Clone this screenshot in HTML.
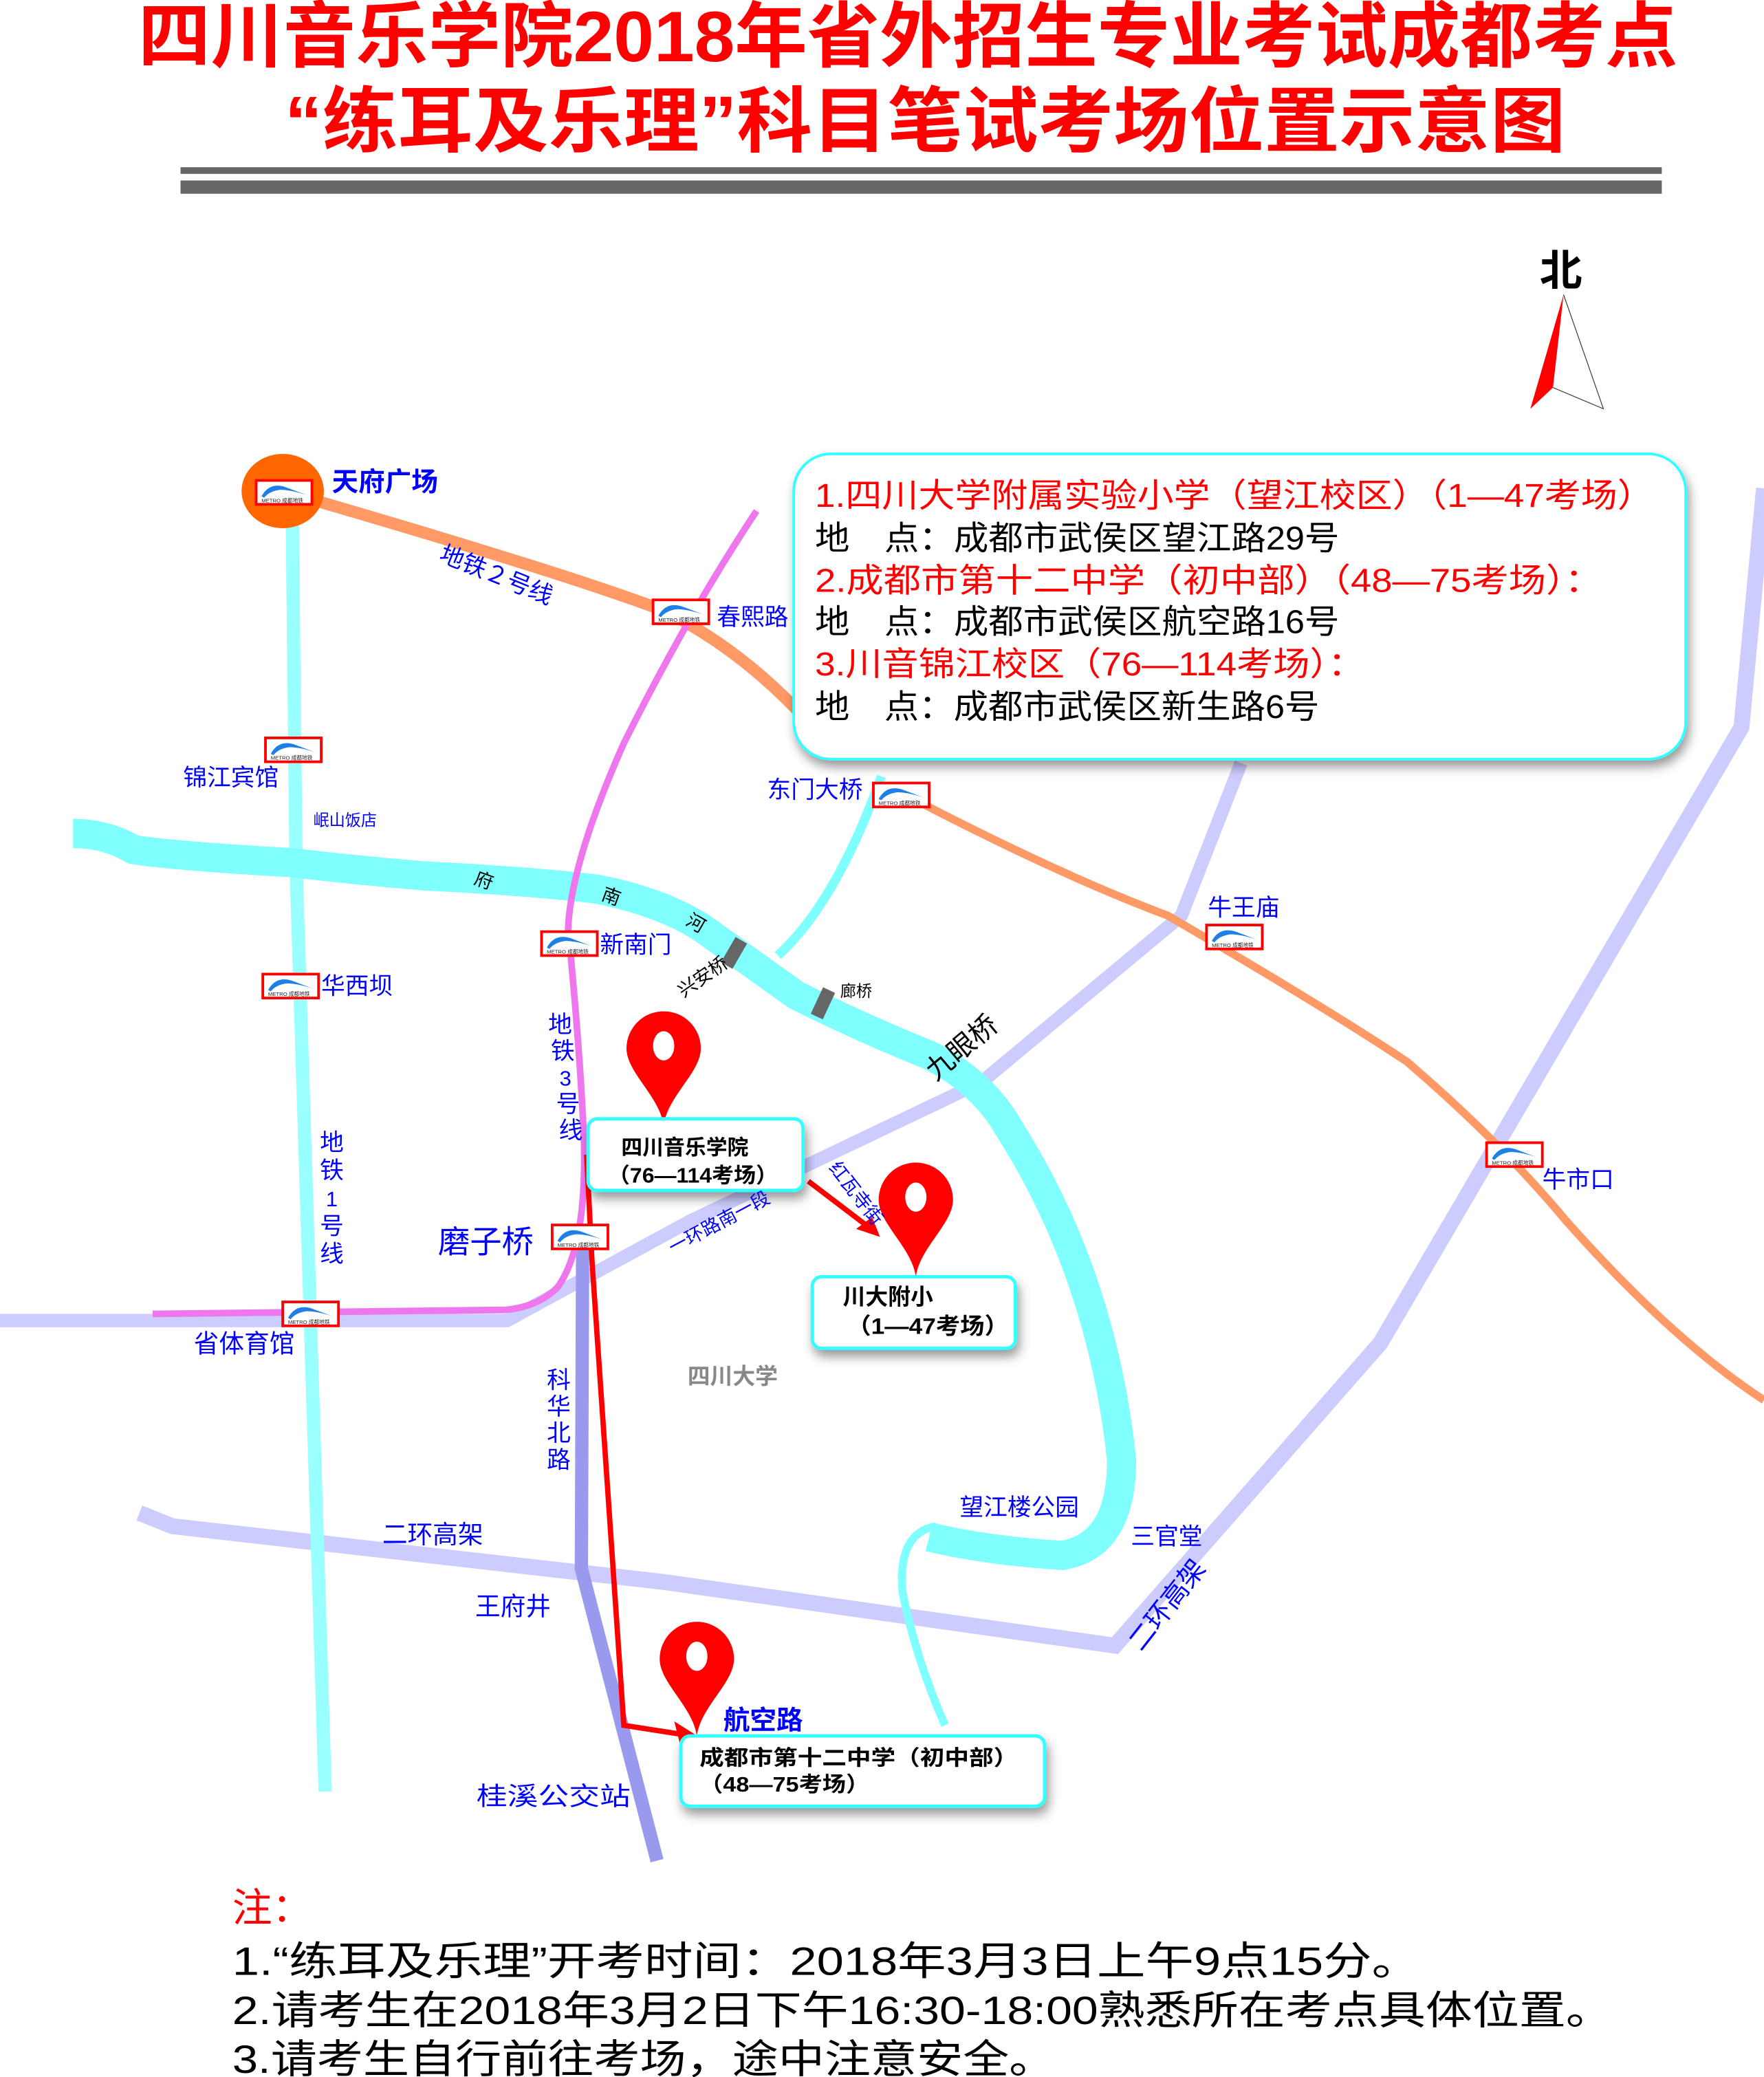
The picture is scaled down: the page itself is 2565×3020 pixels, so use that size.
<!DOCTYPE html>
<html><head><meta charset="utf-8">
<style>
html,body{margin:0;padding:0;background:#fff;}
svg{display:block;}
text{font-family:"Liberation Sans","Noto Sans CJK SC",sans-serif;}
</style></head>
<body>
<svg width="2565" height="3020" viewBox="0 0 1329 1565" preserveAspectRatio="none" xmlns="http://www.w3.org/2000/svg">
<defs>
<filter id="sh" x="-10%" y="-10%" width="130%" height="140%"><feDropShadow dx="2" dy="5" stdDeviation="4" flood-color="#000" flood-opacity="0.4"/></filter>
<g id="metro">
<rect x="0" y="0" width="42" height="18" fill="#fff" stroke="#f00" stroke-width="2"/>
<path d="M4,12 Q10,1 22,5 Q30,8 38,11 Q26,7 18,7 Q10,8 6,13Z" fill="#1e7fe6"/>
<text x="4" y="16.5" font-size="4" fill="#222">METRO 成都地铁</text>
</g>
<g id="pin">
<path d="M0,0 C-3,-22 -28,-40 -28,-58 A28,28 0 1 1 28,-58 C28,-40 3,-22 0,0Z" fill="#f00"/>
<ellipse cx="0" cy="-60" rx="8" ry="11" fill="#fff"/>
</g>
</defs>

<!-- title -->
<text x="684" y="46" text-anchor="middle" font-size="54" font-weight="bold" fill="#f00" textLength="1160" lengthAdjust="spacingAndGlyphs">四川音乐学院2018年省外招生专业考试成都考点</text>
<text x="697" y="110" text-anchor="middle" font-size="54" font-weight="bold" fill="#f00" textLength="965" lengthAdjust="spacingAndGlyphs">“练耳及乐理”科目笔试考场位置示意图</text>
<rect x="136" y="126" width="1116" height="5" fill="#666"/>
<rect x="136" y="136" width="1116" height="10" fill="#666"/>

<!-- north -->
<text x="1176" y="215" text-anchor="middle" font-size="32" font-weight="bold" fill="#000">北</text>
<path d="M1178,222 L1153,308 L1170,292Z" fill="#f00"/>
<path d="M1178,222 L1208,308 L1170,292" fill="none" stroke="#333" stroke-width="0.6"/>

<!-- lavender roads -->
<polyline points="105,1140 130,1150 500,1192 840,1240 1040,1012 1312,548 1329,368" fill="none" stroke="#ccccff" stroke-width="12"/>
<polyline points="0,995 382,995 520,920 740,815 890,690 935,575" fill="none" stroke="#ccccff" stroke-width="10"/>
<polyline points="439,925 438,1182 495,1402" fill="none" stroke="#9999ee" stroke-width="10"/>

<!-- metro 1 -->
<polyline points="220,372 223,650 245,1350" fill="none" stroke="#99ffff" stroke-width="10"/>

<!-- river -->
<path d="M55,628 Q80,628 100,640 Q130,645 220,650 Q270,656 320,660 Q400,664 450,670 Q500,680 530,700 L600,750 Q650,775 700,795 Q740,815 760,850 Q830,960 845,1100 Q845,1165 800,1172 Q740,1168 700,1158" fill="none" stroke="#80ffff" stroke-width="22"/>
<path d="M705,1150 Q676,1155 680,1200 Q690,1250 712,1300" fill="none" stroke="#80ffff" stroke-width="6"/>
<path d="M586,720 Q630,680 664,585" fill="none" stroke="#80ffff" stroke-width="7"/>
<rect x="548" y="707" width="10" height="22" fill="#666" transform="rotate(30 553 718)"/>
<rect x="615" y="745" width="10" height="22" fill="#666" transform="rotate(25 620 756)"/>

<!-- metro 2 orange -->
<path d="M213,370 Q420,430 500,460 Q560,490 610,545" fill="none" stroke="#ff9966" stroke-width="9"/>
<path d="M690,603 Q800,660 880,690 Q1000,760 1060,800 Q1130,860 1180,920 Q1260,1010 1329,1055" fill="none" stroke="#ff9966" stroke-width="6"/>

<!-- metro 3 pink -->
<path d="M570,385 Q520,460 470,560 Q430,650 428,700 Q437,790 440,860 Q442,940 420,970 Q405,985 380,987 L115,990" fill="none" stroke="#ee77ee" stroke-width="5"/>

<!-- red routes -->
<polyline points="442,870 446,950 470,1300 515,1307" fill="none" stroke="#f00" stroke-width="4"/>
<path d="M527,1309 L508,1297 L512,1313Z" fill="#f00"/>
<line x1="609" y1="890" x2="655" y2="925" stroke="#f00" stroke-width="4"/>
<path d="M663,932 L645,926 L657,917Z" fill="#f00"/>

<!-- tianfu square -->
<ellipse cx="213" cy="370" rx="31" ry="28" fill="#ff6600"/>

<!-- metro icons -->
<use href="#metro" x="193" y="362"/>
<use href="#metro" x="492" y="452"/>
<use href="#metro" x="200" y="556"/>
<use href="#metro" x="658" y="590"/>
<use href="#metro" x="909" y="697"/>
<use href="#metro" x="408" y="702"/>
<use href="#metro" x="198" y="734"/>
<use href="#metro" x="1120" y="861"/>
<use href="#metro" x="416" y="923"/>
<use href="#metro" x="213" y="981"/>

<!-- info box -->
<rect x="598" y="342" width="672" height="230" rx="28" fill="#fff" stroke="#33ffff" stroke-width="2" filter="url(#sh)"/>
<g font-size="25" lengthAdjust="spacingAndGlyphs">
<text x="614" y="382" fill="#f00" textLength="632" lengthAdjust="spacingAndGlyphs">1.四川大学附属实验小学（望江校区）（1—47考场）</text>
<text x="614" y="414" fill="#000" textLength="395" lengthAdjust="spacingAndGlyphs">地　点：成都市武侯区望江路29号</text>
<text x="614" y="446" fill="#f00" textLength="593" lengthAdjust="spacingAndGlyphs">2.成都市第十二中学（初中部）（48—75考场）：</text>
<text x="614" y="477" fill="#000" textLength="395" lengthAdjust="spacingAndGlyphs">地　点：成都市武侯区航空路16号</text>
<text x="614" y="509" fill="#f00" textLength="414" lengthAdjust="spacingAndGlyphs">3.川音锦江校区（76—114考场）：</text>
<text x="614" y="541" fill="#000" textLength="380" lengthAdjust="spacingAndGlyphs">地　点：成都市武侯区新生路6号</text>
</g>

<!-- pins -->
<use href="#pin" x="500" y="848"/>
<use href="#pin" x="690" y="962"/>
<use href="#pin" x="525" y="1308"/>

<!-- boxes -->
<rect x="443" y="843" width="162" height="54" rx="7" fill="#fff" stroke="#33ffff" stroke-width="2.5" filter="url(#sh)"/>
<text x="468" y="870" font-size="16" font-weight="bold">四川音乐学院</text>
<text x="458" y="891" font-size="16" font-weight="bold" textLength="128" lengthAdjust="spacingAndGlyphs">（76—114考场）</text>
<rect x="612" y="962" width="153" height="54" rx="7" fill="#fff" stroke="#33ffff" stroke-width="2.5" filter="url(#sh)"/>
<text x="635" y="983" font-size="17" font-weight="bold">川大附小</text>
<text x="638" y="1005" font-size="17" font-weight="bold" textLength="122" lengthAdjust="spacingAndGlyphs">（1—47考场）</text>
<rect x="513" y="1308" width="274" height="53" rx="7" fill="#fff" stroke="#33ffff" stroke-width="2.5" filter="url(#sh)"/>
<text x="527" y="1330" font-size="16" font-weight="bold" textLength="240" lengthAdjust="spacingAndGlyphs">成都市第十二中学（初中部）</text>
<text x="527" y="1350" font-size="16" font-weight="bold" textLength="128" lengthAdjust="spacingAndGlyphs">（48—75考场）</text>

<!-- labels -->
<g fill="#0000ff">
<text x="250" y="370" font-size="20" font-weight="bold">天府广场</text>
<text x="540" y="471" font-size="18">春熙路</text>
<text x="138" y="592" font-size="18">锦江宾馆</text>
<text x="236" y="622" font-size="12">岷山饭店</text>
<text x="578" y="601" font-size="18">东门大桥</text>
<text x="910" y="690" font-size="18">牛王庙</text>
<text x="452" y="718" font-size="18">新南门</text>
<text x="242" y="749" font-size="18">华西坝</text>
<text x="1162" y="895" font-size="18">牛市口</text>
<text x="330" y="944" font-size="24">磨子桥</text>
<text x="146" y="1019" font-size="19">省体育馆</text>
<text x="723" y="1142" font-size="18">望江楼公园</text>
<text x="852" y="1164" font-size="18">三官堂</text>
<text x="288" y="1163" font-size="19">二环高架</text>
<text x="358" y="1217" font-size="19">王府井</text>
<text x="359" y="1360" font-size="19" textLength="116" lengthAdjust="spacingAndGlyphs">桂溪公交站</text>
<text x="545" y="1303" font-size="20" font-weight="bold">航空路</text>
<text x="330" y="422" font-size="18" transform="rotate(22 330 422)">地铁２号线</text>
<text x="507" y="945" font-size="14" transform="rotate(-28 507 945)">一环路南一段</text>
<text x="624" y="880" font-size="14" transform="rotate(52 624 880)">红瓦寺街</text>
<text x="860" y="1245" font-size="20" transform="rotate(-52 860 1245)">二环高架</text>
<g font-size="18" text-anchor="middle">
<text x="422" y="778">地</text><text x="424" y="798">铁</text><text x="426" y="818" font-size="16">3</text><text x="428" y="838">号</text><text x="430" y="858">线</text>
<text x="250" y="867">地</text><text x="250" y="888">铁</text><text x="250" y="909" font-size="16">1</text><text x="250" y="930">号</text><text x="250" y="951">线</text>
<text x="421" y="1046">科</text><text x="421" y="1066">华</text><text x="421" y="1086">北</text><text x="421" y="1106">路</text>
</g>
</g>
<g fill="#000">
<text x="358" y="668" font-size="14" transform="rotate(20 364 662)">府</text>
<text x="454" y="680" font-size="14" transform="rotate(20 460 674)">南</text>
<text x="518" y="700" font-size="14" transform="rotate(30 524 694)">河</text>
<text x="515" y="752" font-size="14" transform="rotate(-35 515 752)">兴安桥</text>
<text x="633" y="751" font-size="12">廊桥</text>
<text x="705" y="815" font-size="21" transform="rotate(-40 705 815)">九眼桥</text>
</g>
<text x="518" y="1043" font-size="17" font-weight="bold" fill="#888">四川大学</text>

<!-- notes -->
<text x="175" y="1448" font-size="30" fill="#f00">注：</text>
<g font-size="30" fill="#000">
<text x="175" y="1488" textLength="895" lengthAdjust="spacingAndGlyphs">1.“练耳及乐理”开考时间：2018年3月3日上午9点15分。</text>
<text x="175" y="1525" textLength="1040" lengthAdjust="spacingAndGlyphs">2.请考生在2018年3月2日下午16:30-18:00熟悉所在考点具体位置。</text>
<text x="175" y="1562" textLength="620" lengthAdjust="spacingAndGlyphs">3.请考生自行前往考场，途中注意安全。</text>
</g>
</svg>
</body></html>
